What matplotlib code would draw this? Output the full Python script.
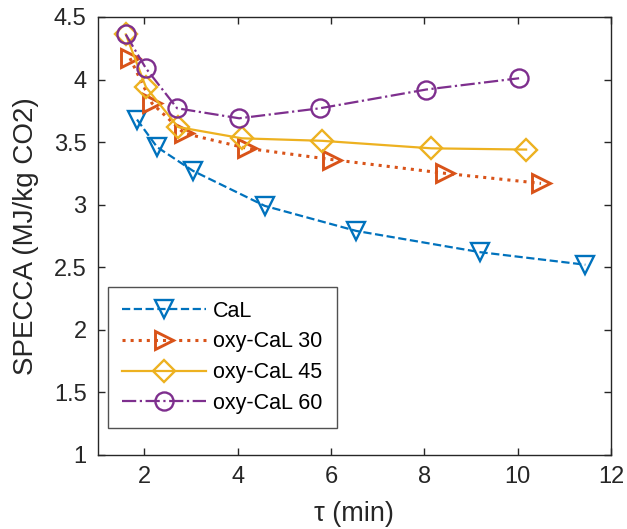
import matplotlib.pyplot as plt

plt.rcParams['font.family'] = ['Liberation Sans', 'DejaVu Sans']

# residence time (min) and SPECCA (MJ/kg CO2)
tau_cal = [1.84, 2.27, 3.04, 4.58, 6.54, 9.20, 11.45]
specca_cal = [3.68, 3.46, 3.27, 2.99, 2.79, 2.62, 2.52]

tau_oxy30 = [1.69, 2.16, 2.85, 4.20, 6.02, 8.45, 10.50]
specca_oxy30 = [4.17, 3.81, 3.57, 3.45, 3.36, 3.25, 3.17]

tau_oxy45 = [1.60, 2.03, 2.72, 4.09, 5.81, 8.15, 10.18]
specca_oxy45 = [4.36, 3.94, 3.62, 3.53, 3.51, 3.45, 3.44]

tau_oxy60 = [1.60, 2.03, 2.70, 4.03, 5.76, 8.04, 10.03]
specca_oxy60 = [4.36, 4.09, 3.77, 3.69, 3.77, 3.92, 4.01]

labels = ['CaL', 'oxy-CaL 30', 'oxy-CaL 45', 'oxy-CaL 60']
colors = ['#0072BD', '#D95319', '#EDB120', '#7E2F8E']

fig = plt.figure(figsize=(6.27, 5.29), dpi=100)
ax = fig.add_axes([0.156, 0.14, 0.8185, 0.828])

ms = 13
mew = 1.7
lw = 1.6
ax.plot(tau_cal, specca_cal, '--', marker='v', color=colors[0], mfc='none',
        ms=ms, mew=mew, lw=lw, label=labels[0])
ax.plot(tau_oxy30, specca_oxy30, ':', marker='>', color=colors[1], mfc='none',
        ms=ms, mew=mew + 0.4, lw=2.2, label=labels[1])
ax.plot(tau_oxy45, specca_oxy45, '-', marker='D', color=colors[2], mfc='none',
        ms=ms - 2, mew=mew, lw=lw, label=labels[2])
ax.plot(tau_oxy60, specca_oxy60, '-.', marker='o', color=colors[3], mfc='none',
        ms=ms, mew=mew, lw=lw, label=labels[3])

ax.set_xlim(1, 12)
ax.set_ylim(1, 4.5)
ax.set_xticks([2, 4, 6, 8, 10, 12])
ax.set_yticks([1, 1.5, 2, 2.5, 3, 3.5, 4, 4.5])
ax.set_yticklabels(['1', '1.5', '2', '2.5', '3', '3.5', '4', '4.5'])
ax.tick_params(direction='in', length=5, width=1, labelsize=17,
               colors='#262626', top=True, right=True, pad=8)
for s in ax.spines.values():
    s.set_color('#262626')
    s.set_linewidth(1)

ax.set_xlabel('τ (min)', fontsize=19.5, color='#262626', labelpad=9)
ax.set_ylabel('SPECCA (MJ/kg CO2)', fontsize=20, color='#262626', labelpad=11)

leg = ax.legend(loc='lower left', fontsize=15.5, handlelength=3.9,
                labelspacing=0.45, borderpad=0.65, handletextpad=0.35,
                borderaxespad=0, frameon=True, fancybox=False,
                bbox_to_anchor=(0.0195, 0.062))
leg.get_frame().set_edgecolor('#262626')
leg.get_frame().set_linewidth(1)

fig.savefig('out.png', dpi=100)
